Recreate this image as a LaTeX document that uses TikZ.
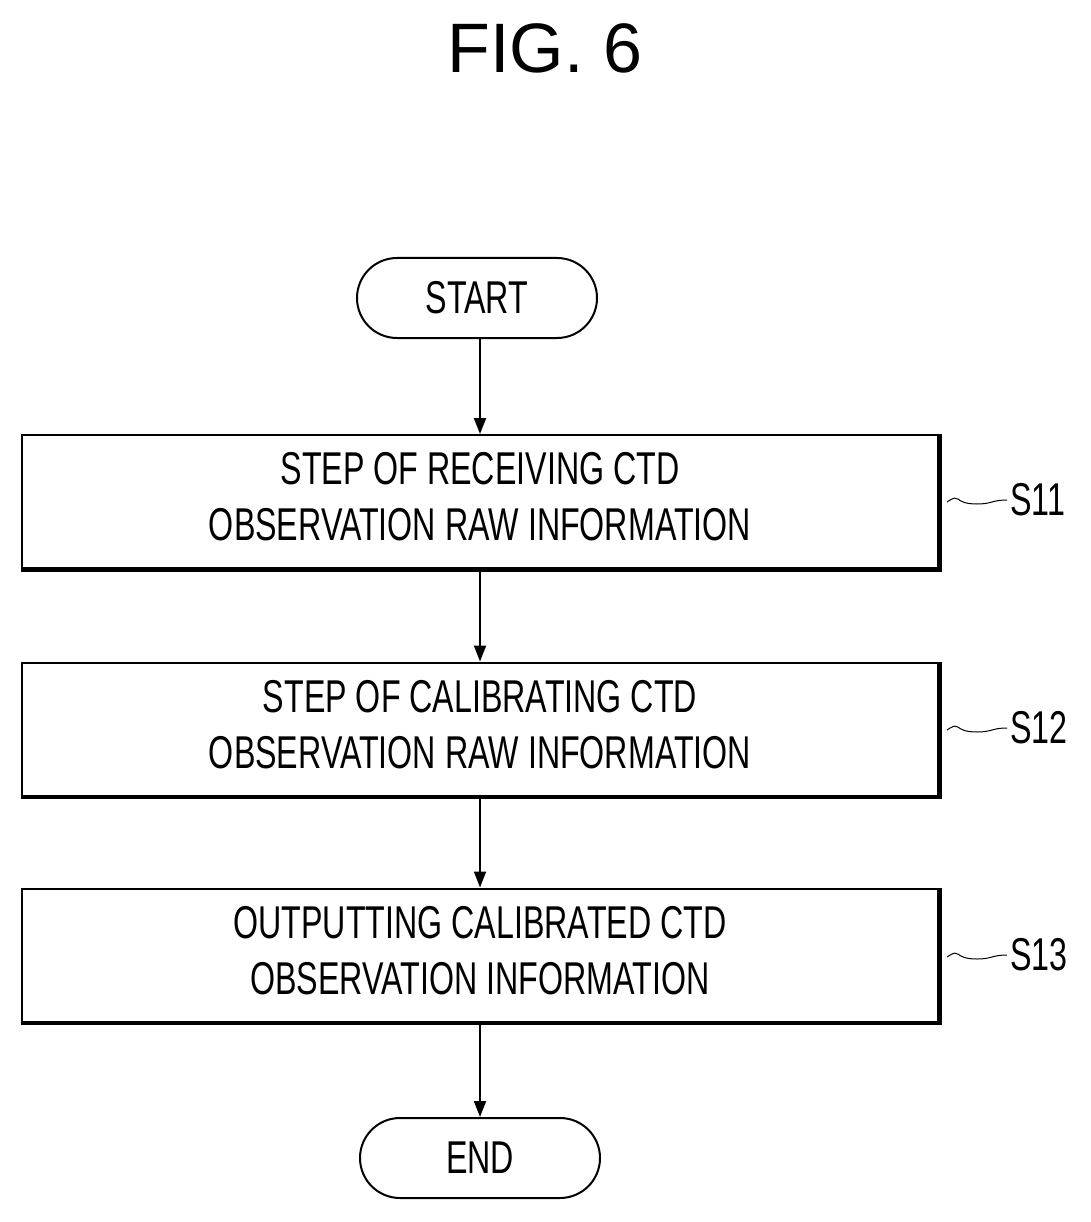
\documentclass[tikz,border=0pt]{standalone}
\usepackage{fontspec}
\setmainfont{Liberation Sans}
\usetikzlibrary{arrows.meta}
\begin{document}
\begin{tikzpicture}[x=1pt,y=-1pt,
  txt/.style={font=\fontsize{46}{56}\selectfont,align=center,inner sep=0},
  box/.style={draw,line width=2pt,minimum width=916pt,minimum height=133pt,inner sep=0},
  term/.style={draw,line width=2pt,rounded corners=40pt,minimum width=240pt,minimum height=80pt,inner sep=0},
  arr/.style={line width=2pt,-{Triangle[length=16pt,width=12pt]}},
  wav/.style={line width=1pt},
  lab/.style={font=\fontsize{46}{48}\selectfont,inner sep=0,anchor=west}]
\useasboundingbox (0,0) rectangle (1090,1222);
\node[inner sep=0,font=\fontsize{70}{74}\selectfont] (title) at (545,48) {FIG. 6};
\node[term] (start) at (477,298) {};
\node[txt] at (start) {\scalebox{0.70}[1]{START}};
\node[box] (b1) at (480,501.5) {};
\node[txt] at (b1) {\scalebox{0.70}[1]{\begin{tabular}{c}STEP OF RECEIVING CTD\\OBSERVATION RAW INFORMATION\end{tabular}}};
\node[box] (b2) at (480,729) {};
\node[txt] at (b2) {\scalebox{0.70}[1]{\begin{tabular}{c}STEP OF CALIBRATING CTD\\OBSERVATION RAW INFORMATION\end{tabular}}};
\node[box] (b3) at (480,955) {};
\node[txt] at (b3) {\scalebox{0.70}[1]{\begin{tabular}{c}OUTPUTTING CALIBRATED CTD\\OBSERVATION INFORMATION\end{tabular}}};
\node[term] (end) at (480,1158) {};
\node[txt] at (end) {\scalebox{0.70}[1]{END}};
\foreach \b in {b1,b2,b3}{
  \draw[line width=3pt] ([xshift=1pt]\b.north east) -- ([xshift=1pt,yshift=-1pt]\b.south east) -- ([yshift=-1pt]\b.south west);
}
\draw[arr] (start.south -| 480,0) -- (b1.north);
\draw[arr] (b1.south) -- (b2.north);
\draw[arr] (b2.south) -- (b3.north);
\draw[arr] (b3.south) -- (end.north);
\node[lab] (s11) at (1010,500) {\scalebox{0.70}[1]{S11}};
\node[lab] (s12) at (1010,728) {\scalebox{0.70}[1]{S12}};
\node[lab] (s13) at (1010,955) {\scalebox{0.70}[1]{S13}};
\foreach \s in {s11,s12,s13}{
  \coordinate (a) at ([xshift=-63pt,yshift=-2pt]\s.west);
  \coordinate (c) at ([xshift=-3pt]\s.west);
  \draw[wav] (a) .. controls ++(15,-10) and ++(-25,0) .. ([xshift=-33pt,yshift=-4pt]\s.west)
     .. controls ++(15,0) and ++(-15,0) .. (c);
}
\end{tikzpicture}
\end{document}
